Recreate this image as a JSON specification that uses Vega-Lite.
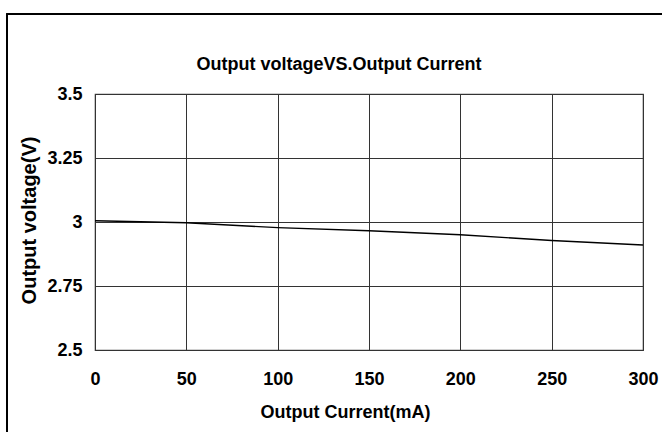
{
  "$schema": "https://vega.github.io/schema/vega-lite/v6.json",
  "autosize": "none",
  "width": 548,
  "height": 256,
  "padding": {"left": 95, "top": 94, "right": 19, "bottom": 82},
  "background": "white",
  "title": {
    "text": "Output voltageVS.Output Current",
    "font": "Liberation Sans",
    "fontSize": 18,
    "fontWeight": "bold",
    "color": "black",
    "anchor": "middle",
    "baseline": "alphabetic",
    "dx": -30,
    "offset": -75
  },
  "data": {
    "values": [
      {"current": 0, "voltage": 3.005},
      {"current": 50, "voltage": 2.997},
      {"current": 100, "voltage": 2.978},
      {"current": 150, "voltage": 2.966},
      {"current": 200, "voltage": 2.95},
      {"current": 250, "voltage": 2.928},
      {"current": 300, "voltage": 2.91}
    ]
  },
  "layer": [
    {
      "mark": {"type": "rect", "fill": null, "stroke": "black", "strokeWidth": 1.2, "clip": false},
      "encoding": {
        "x": {"datum": -48.2, "type": "quantitative"},
        "x2": {"datum": 400},
        "y": {"datum": 3.8125, "type": "quantitative"},
        "y2": {"datum": 1.5}
      }
    },
    {
      "mark": {"type": "line", "color": "black", "strokeWidth": 1.4},
      "encoding": {
        "x": {
          "field": "current",
          "type": "quantitative",
          "scale": {"domain": [0, 300], "nice": false, "zero": false},
          "axis": {
            "title": "Output Current(mA)",
            "values": [0, 50, 100, 150, 200, 250, 300],
            "ticks": false,
            "domain": false,
            "grid": true,
            "labelPadding": 20,
            "labelFlush": false,
            "titleX": 250,
            "titleY": 67,
            "titleBaseline": "alphabetic",
            "titleAlign": "center",
            "titleFontSize": 18
          }
        },
        "y": {
          "field": "voltage",
          "type": "quantitative",
          "scale": {"domain": [2.5, 3.5], "nice": false, "zero": false},
          "axis": {
            "title": "Output voltage(V)",
            "values": [2.5, 2.75, 3, 3.25, 3.5],
            "labelExpr": "toString(datum.value)",
            "ticks": false,
            "domain": false,
            "grid": true,
            "labelPadding": 13,
            "labelFlush": false,
            "titleX": -66,
            "titleY": 126,
            "titleAngle": -90,
            "titleBaseline": "middle",
            "titleAlign": "center",
            "titleFontSize": 20
          }
        }
      }
    }
  ],
  "config": {
    "view": {"stroke": "#444", "strokeWidth": 1.2},
    "axis": {
      "labelFont": "Liberation Sans",
      "labelFontSize": 18,
      "labelFontWeight": "bold",
      "labelColor": "black",
      "titleFont": "Liberation Sans",
      "titleFontWeight": "bold",
      "titleColor": "black",
      "gridColor": "#333",
      "gridWidth": 1,
      "gridOpacity": 1
    }
  }
}
